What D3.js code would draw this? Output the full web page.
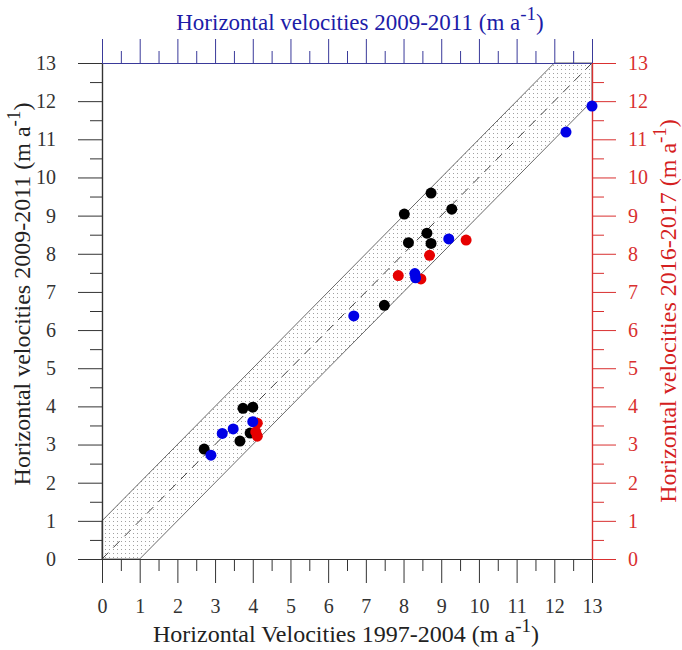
<!DOCTYPE html>
<html>
<head>
<meta charset="utf-8">
<script src="https://cdn.jsdelivr.net/npm/d3@7"></script>
<style>
  body { margin: 0; background: #fff; }
  svg text { font-family: "Liberation Serif", "Times New Roman", serif; }
</style>
</head>
<body>
<svg id="chart" width="682" height="650"></svg>
<script>
// values: [x 1997-2004, y]
const black = [
  [2.71, 2.88], [3.74, 3.95], [4.00, 3.98], [3.66, 3.09], [3.93, 3.30],
  [8.73, 9.59], [8.02, 9.04], [9.28, 9.17], [8.62, 8.54], [8.13, 8.29],
  [8.73, 8.27], [7.49, 6.65]
];
const red = [
  [4.12, 3.56], [4.08, 3.33], [4.12, 3.22],
  [9.66, 8.36], [8.69, 7.96], [7.86, 7.43], [8.46, 7.34]
];
const blue = [
  [2.89, 2.72], [3.19, 3.29], [3.48, 3.41], [4.00, 3.60],
  [9.20, 8.39], [8.30, 7.48], [8.32, 7.37], [6.68, 6.37],
  [12.31, 11.19], [13.0, 11.87]
];
const band = [[0, 0], [1, 0], [13, 12], [13, 13], [12, 13], [0, 1]];
const majorTicks = d3.range(0, 14);
const minorTicks = d3.range(0.5, 13, 1);

const svg = d3.select("#chart");
const x = d3.scaleLinear().domain([0, 13]).range([102, 592]);
const y = d3.scaleLinear().domain([0, 13]).range([559, 63]);

const defs = svg.append("defs");
const pat = defs.append("pattern")
  .attr("id", "dots").attr("width", 4).attr("height", 4)
  .attr("patternUnits", "userSpaceOnUse");
pat.append("rect").attr("x", 1).attr("y", 1).attr("width", 1).attr("height", 1).attr("fill", "#a0a0a0");

// shaded band
svg.append("path")
  .attr("d", d3.line().x(d => x(d[0])).y(d => y(d[1]))(band) + "Z")
  .attr("fill", "url(#dots)")
  .attr("stroke", "#444")
  .attr("stroke-width", 0.8);

// 1:1 line
svg.append("line")
  .attr("x1", x(0)).attr("y1", y(0)).attr("x2", x(13)).attr("y2", y(13))
  .attr("stroke", "#444").attr("stroke-width", 1)
  .attr("stroke-dasharray", "9,7");

function axisStyle(g, color, fontSize) {
  g.select(".domain").attr("stroke", color).attr("stroke-width", 1.2);
  g.selectAll(".tick line").attr("stroke", color).attr("stroke-width", 1);
  g.selectAll(".tick text").attr("fill", color).style("font-size", fontSize + "px");
}

// bottom axis
const gB = svg.append("g").attr("transform", `translate(0,${y(0)})`);
gB.call(d3.axisBottom(x).tickValues(majorTicks).tickSize(24).tickPadding(16).tickSizeOuter(0));
axisStyle(gB, "#333", 20);
const gBm = svg.append("g").attr("transform", `translate(0,${y(0)})`);
gBm.call(d3.axisBottom(x).tickValues(minorTicks).tickSize(12).tickFormat("").tickSizeOuter(0));
axisStyle(gBm, "#333", 20);

// left axis
const gL = svg.append("g").attr("transform", `translate(${x(0)},0)`);
gL.call(d3.axisLeft(y).tickValues(majorTicks).tickSize(24).tickPadding(22).tickSizeOuter(0));
axisStyle(gL, "#333", 20);
const gLm = svg.append("g").attr("transform", `translate(${x(0)},0)`);
gLm.call(d3.axisLeft(y).tickValues(minorTicks).tickSize(12).tickFormat("").tickSizeOuter(0));
axisStyle(gLm, "#333", 20);

// top axis (blue, no labels)
const topColor = "#3a3a9a";
const gT = svg.append("g").attr("transform", `translate(0,${y(13)})`);
gT.call(d3.axisTop(x).tickValues(majorTicks).tickSize(24).tickFormat("").tickSizeOuter(0));
axisStyle(gT, topColor, 20);
const gTm = svg.append("g").attr("transform", `translate(0,${y(13)})`);
gTm.call(d3.axisTop(x).tickValues(minorTicks).tickSize(12).tickFormat("").tickSizeOuter(0));
axisStyle(gTm, topColor, 20);

// right axis (red)
const rightColor = "#d93030";
const gR = svg.append("g").attr("transform", `translate(${x(13)},0)`);
gR.call(d3.axisRight(y).tickValues(majorTicks).tickSize(24).tickPadding(12).tickSizeOuter(0));
axisStyle(gR, rightColor, 20);
const gRm = svg.append("g").attr("transform", `translate(${x(13)},0)`);
gRm.call(d3.axisRight(y).tickValues(minorTicks).tickSize(12).tickFormat("").tickSizeOuter(0));
axisStyle(gRm, rightColor, 20);

// points
function dots(data, color) {
  svg.append("g").selectAll("circle").data(data).join("circle")
    .attr("cx", d => x(d[0])).attr("cy", d => y(d[1]))
    .attr("r", 5.5).attr("fill", color);
}
dots(black, "#000");
dots(red, "#e60000");
dots(blue, "#0000e6");

// titles with superscript
function title(textEl, label) {
  textEl.append("tspan").text(label + " (m a");
  textEl.append("tspan").attr("baseline-shift", "super").style("font-size", "19px").text("-1");
  textEl.append("tspan").text(")");
}
title(svg.append("text")
  .attr("x", 360).attr("y", 30).attr("text-anchor", "middle")
  .attr("fill", "#1c1ca8").style("font-size", "23px"), "Horizontal velocities 2009-2011");
title(svg.append("text")
  .attr("x", 346).attr("y", 642).attr("text-anchor", "middle")
  .attr("fill", "#222").style("font-size", "24px"), "Horizontal Velocities 1997-2004");
title(svg.append("text")
  .attr("transform", `translate(30,${(y(0) + y(13)) / 2 - 17}) rotate(-90)`)
  .attr("text-anchor", "middle")
  .attr("fill", "#222").style("font-size", "24px"), "Horizontal velocities 2009-2011");
title(svg.append("text")
  .attr("transform", `translate(676,${(y(0) + y(13)) / 2}) rotate(-90)`)
  .attr("text-anchor", "middle")
  .attr("fill", "#d42020").style("font-size", "24px"), "Horizontal velocities 2016-2017");
</script>
</body>
</html>
